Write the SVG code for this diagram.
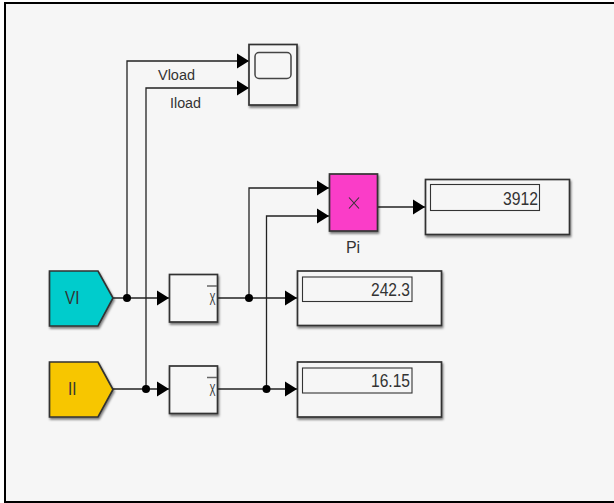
<svg xmlns="http://www.w3.org/2000/svg" width="614" height="503" viewBox="0 0 614 503">
<defs>
<marker id="arrow" markerUnits="userSpaceOnUse" markerWidth="13" markerHeight="16" refX="12" refY="8" orient="auto"><path d="M0,0.500 L12,8 L0,15.500 Z" fill="#000"/></marker>
<filter id="sh" x="-10%" y="-10%" width="125%" height="125%"><feDropShadow dx="1" dy="2" stdDeviation="1.300" flood-color="#000" flood-opacity="0.5"/></filter>
</defs>
<style>
.b{fill:#f6f6f6;stroke:#333;stroke-width:1.700;filter:url(#sh)}
.i{fill:#f6f6f6;stroke:#333;stroke-width:1.100}
.c{fill:none;stroke:#222;stroke-width:1.300}
.a{marker-end:url(#arrow)}
.t{font-family:"Liberation Sans",Arial,sans-serif;font-size:14px;fill:#333}
.n{font-size:18px;text-anchor:end}
.m{text-anchor:middle}
.x{font-size:16px}
</style>
<rect x="0" y="0" width="614" height="503" fill="#fff"/>
<rect x="5" y="3" width="609" height="499" fill="#f6f6f6"/>
<path d="M614,3 H5 V502 H614" fill="none" stroke="#000" stroke-width="2"/>
<g id="connectors">
<path class="c a" d="M127,298 V61 H249"/>
<path class="c a" d="M146,389 V88 H249"/>
<path class="c a" d="M113,298 H169"/>
<path class="c a" d="M113,389 H169"/>
<path class="c a" d="M217,298 H297"/>
<path class="c a" d="M217,389 H297"/>
<path class="c a" d="M249,298 V188 H329"/>
<path class="c a" d="M266.500,389 V216 H329"/>
<path class="c a" d="M378,207 H425"/>
<circle cx="127" cy="298" r="4" fill="#000"/>
<circle cx="249" cy="298" r="4" fill="#000"/>
<circle cx="146" cy="389" r="4" fill="#000"/>
<circle cx="266.500" cy="389" r="4" fill="#000"/>
<text class="t" x="158" y="79.500" textLength="37" lengthAdjust="spacingAndGlyphs">Vload</text>
<text class="t" x="170" y="107.500" textLength="31" lengthAdjust="spacingAndGlyphs">Iload</text>
</g>
<g id="scope">
<rect class="b" x="249" y="44.500" width="48" height="60.500"/>
<rect x="255" y="52.500" width="36" height="26" rx="4" fill="none" stroke="#444" stroke-width="1.500"/>
</g>
<g id="VI">
<path class="b" style="fill:#00cccc" d="M49.500,271 H98 L113,298 L98,326 H49.500 Z"/>
<text class="t x" x="65" y="303.500" textLength="14.500" lengthAdjust="spacingAndGlyphs" style="font-size:18px">VI</text>
</g>
<g id="II">
<path class="b" style="fill:#f7c600" d="M49.500,362 H98 L113,389.500 L98,417 H49.500 Z"/>
<text class="t x" x="68" y="394.500" textLength="8.500" lengthAdjust="spacingAndGlyphs" style="font-size:18px">II</text>
</g>
<g id="meanV">
<rect class="b" x="169.500" y="274.500" width="48" height="47.500"/>
<path d="M207,286 H217" stroke="#666" stroke-width="1.500"/>
<text class="t" x="209.500" y="305" textLength="6" lengthAdjust="spacingAndGlyphs" style="font-size:17px">X</text>
</g>
<g id="meanI">
<rect class="b" x="169.500" y="366" width="48" height="47.500"/>
<path d="M207,377.500 H217" stroke="#666" stroke-width="1.500"/>
<text class="t" x="209.500" y="396" textLength="6" lengthAdjust="spacingAndGlyphs" style="font-size:17px">X</text>
</g>
<g id="Pi">
<rect class="b" style="fill:#fa3cc8" x="329.500" y="174" width="48" height="57"/>
<path d="M349,197.500 L359,208.500 M359,197.500 L349,208.500" stroke="#333" stroke-width="1.100"/>
<text class="t m" x="353" y="253" style="font-size:16px">Pi</text>
</g>
<g id="displayP">
<rect class="b" x="425.500" y="179.500" width="144" height="55"/>
<rect class="i" x="430.500" y="184.500" width="109" height="26"/>
<text class="t n" x="538" y="205" textLength="35" lengthAdjust="spacingAndGlyphs">3912</text>
</g>
<g id="displayV">
<rect class="b" x="297.500" y="271" width="144" height="54.500"/>
<rect class="i" x="302.500" y="277" width="109.500" height="24.500"/>
<text class="t n" x="410" y="295.500" textLength="39" lengthAdjust="spacingAndGlyphs">242.3</text>
</g>
<g id="displayI">
<rect class="b" x="297.500" y="362" width="144" height="55"/>
<rect class="i" x="302.500" y="368" width="109.500" height="25"/>
<text class="t n" x="410" y="386.500" textLength="39" lengthAdjust="spacingAndGlyphs">16.15</text>
</g>
</svg>
